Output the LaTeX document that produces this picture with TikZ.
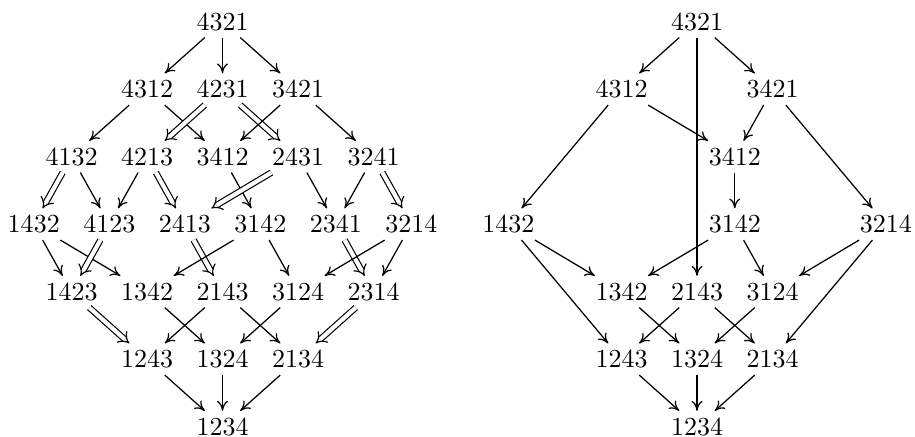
\documentclass[tikz,border=0pt]{standalone}
\usetikzlibrary{arrows.meta}
\begin{document}
\begin{tikzpicture}[x=0.3846pt,y=-0.3846pt,
  perm/.style={inner sep=2.6pt, outer sep=0pt},
  ar/.style={line width=0.48pt, -{Computer Modern Rightarrow[length=3.8pt,width=4.2pt]}},
  dar/.style={line width=0.45pt, double, double distance=1.6pt, -{Implies[length=4pt]}},
]
\useasboundingbox (0,0) rectangle (915,437);
% ---------- left diagram ----------
\node[perm] (L4321) at (222.5,21.7) {4321};
\node[perm] (L4312) at (147,89.2) {4312};
\node[perm] (L4231) at (222.5,89.2) {4231};
\node[perm] (L3421) at (298,89.2) {3421};
\node[perm] (L4132) at (71.5,156.7) {4132};
\node[perm] (L4213) at (147,156.7) {4213};
\node[perm] (L3412) at (222.5,156.7) {3412};
\node[perm] (L2431) at (298,156.7) {2431};
\node[perm] (L3241) at (373.5,156.7) {3241};
\node[perm] (L1432) at (33.75,224.2) {1432};
\node[perm] (L4123) at (109.25,224.2) {4123};
\node[perm] (L2413) at (184.75,224.2) {2413};
\node[perm] (L3142) at (260.25,224.2) {3142};
\node[perm] (L2341) at (335.75,224.2) {2341};
\node[perm] (L3214) at (411.25,224.2) {3214};
\node[perm] (L1423) at (71.5,291.7) {1423};
\node[perm] (L1342) at (147,291.7) {1342};
\node[perm] (L2143) at (222.5,291.7) {2143};
\node[perm] (L3124) at (298,291.7) {3124};
\node[perm] (L2314) at (373.5,291.7) {2314};
\node[perm] (L1243) at (147,359.2) {1243};
\node[perm] (L1324) at (222.5,359.2) {1324};
\node[perm] (L2134) at (298,359.2) {2134};
\node[perm] (L1234) at (222.5,426.7) {1234};
\draw[ar] (L4321) -- (L4312);
\draw[ar] (L4321) -- (L4231);
\draw[ar] (L4321) -- (L3421);
\draw[ar] (L4312) -- (L4132);
\draw[ar] (L4312) -- (L3412);
\draw[dar] (L4231) -- (L4213);
\draw[dar] (L4231) -- (L2431);
\draw[ar] (L3421) -- (L3412);
\draw[ar] (L3421) -- (L3241);
\draw[dar] (L4132) -- (L1432);
\draw[ar] (L4132) -- (L4123);
\draw[ar] (L4213) -- (L4123);
\draw[dar] (L4213) -- (L2413);
\draw[ar] (L3412) -- (L3142);
\draw[dar] (L2431) -- (L2413);
\draw[ar] (L2431) -- (L2341);
\draw[ar] (L3241) -- (L2341);
\draw[dar] (L3241) -- (L3214);
\draw[ar] (L1432) -- (L1423);
\draw[ar] (L1432) -- (L1342);
\draw[dar] (L4123) -- (L1423);
\draw[dar] (L2413) -- (L2143);
\draw[ar] (L3142) -- (L1342);
\draw[ar] (L3142) -- (L3124);
\draw[dar] (L2341) -- (L2314);
\draw[ar] (L3214) -- (L3124);
\draw[ar] (L3214) -- (L2314);
\draw[dar] (L1423) -- (L1243);
\draw[ar] (L1342) -- (L1324);
\draw[ar] (L2143) -- (L1243);
\draw[ar] (L2143) -- (L2134);
\draw[ar] (L3124) -- (L1324);
\draw[dar] (L2314) -- (L2134);
\draw[ar] (L1243) -- (L1234);
\draw[ar] (L1324) -- (L1234);
\draw[ar] (L2134) -- (L1234);
% ---------- right diagram ----------
\node[perm] (R4321) at (697,21.7) {4321};
\node[perm] (R4312) at (621.5,89.2) {4312};
\node[perm] (R3421) at (772.5,89.2) {3421};
\node[perm] (R3412) at (734.75,156.7) {3412};
\node[perm] (R1432) at (508.25,224.2) {1432};
\node[perm] (R3142) at (734.75,224.2) {3142};
\node[perm] (R3214) at (885.75,224.2) {3214};
\node[perm] (R1342) at (621.5,291.7) {1342};
\node[perm] (R2143) at (697,291.7) {2143};
\node[perm] (R3124) at (772.5,291.7) {3124};
\node[perm] (R1243) at (621.5,359.2) {1243};
\node[perm] (R1324) at (697,359.2) {1324};
\node[perm] (R2134) at (772.5,359.2) {2134};
\node[perm] (R1234) at (697,426.7) {1234};
\draw[ar] (R4321) -- (R4312);
\draw[ar] (R4321) -- (R3421);
\draw[ar] (R4321) -- (R2143);
\draw[ar] (R4312) -- (R1432);
\draw[ar] (R4312) -- (R3412);
\draw[ar] (R3421) -- (R3412);
\draw[ar] (R3421) -- (R3214);
\draw[ar] (R3412) -- (R3142);
\draw[ar] (R1432) -- (R1342);
\draw[ar] (R1432) -- (R1243);
\draw[ar] (R3142) -- (R1342);
\draw[ar] (R3142) -- (R3124);
\draw[ar] (R3214) -- (R3124);
\draw[ar] (R3214) -- (R2134);
\draw[ar] (R1342) -- (R1324);
\draw[ar] (R2143) -- (R1243);
\draw[ar] (R2143) -- (R2134);
\draw[ar] (R3124) -- (R1324);
\draw[ar] (R1243) -- (R1234);
\draw[ar] (R1324) -- (R1234);
\draw[ar] (R2134) -- (R1234);
\end{tikzpicture}
\end{document}
